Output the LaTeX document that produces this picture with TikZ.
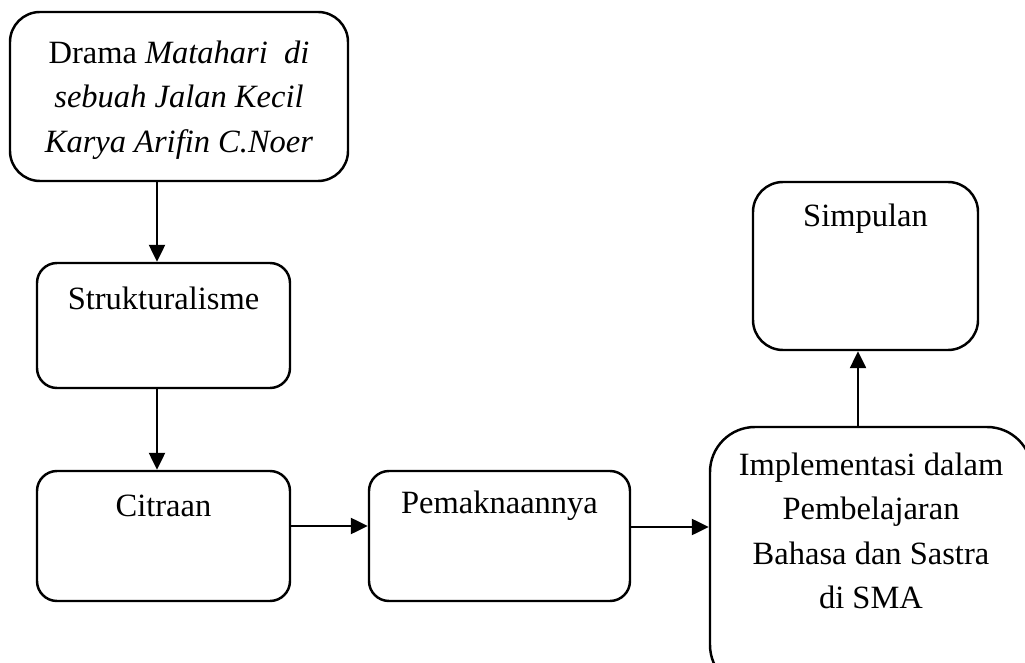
\documentclass[tikz,border=0pt]{standalone}
\usepackage{fontspec}
\setmainfont{Liberation Serif}
\usetikzlibrary{arrows.meta}
\begin{document}
\begin{tikzpicture}[line cap=round,line join=round,
    box/.style={draw,line width=1.4pt,inner sep=0pt},
    txt/.style={font=\fontsize{18.5}{25.3}\selectfont,align=center,inner sep=0pt},
    arr/.style={line width=1.4pt,-{Triangle[length=0.34cm,width=0.32cm]}}]
  \useasboundingbox (0,0) rectangle (20.5,-13.26);
  \node[box,rounded corners=0.6cm,minimum width=6.76cm,minimum height=3.38cm] (drama) at (3.58,-1.93) {};
  \node[box,rounded corners=0.4cm,minimum width=5.06cm,minimum height=2.5cm] (struk) at (3.27,-6.51) {};
  \node[box,rounded corners=0.4cm,minimum width=5.06cm,minimum height=2.6cm] (citra) at (3.27,-10.72) {};
  \node[box,rounded corners=0.4cm,minimum width=5.22cm,minimum height=2.6cm] (makna) at (9.99,-10.72) {};
  \node[box,rounded corners=0.9cm,minimum width=6.44cm,minimum height=5.26cm] (impl) at (17.42,-11.17) {};
  \node[box,rounded corners=0.6cm,minimum width=4.5cm,minimum height=3.36cm] (simpul) at (17.31,-5.32) {};
  \node[txt] (dramat) at ([yshift=-0.07cm]drama.center) {Drama \textit{Matahari\ \ di}\\\textit{sebuah Jalan Kecil}\\\textit{Karya Arifin C.Noer}};
  \node[txt] (strukt) at ([yshift=-0.74cm]struk.north) {Strukturalisme};
  \node[txt] (citrat) at ([yshift=-0.72cm]citra.north) {Citraan};
  \node[txt] (maknat) at ([yshift=-0.72cm]makna.north) {Pemaknaannya};
  \node[txt] (implt) at ([yshift=-2.1cm]impl.north) {Implementasi dalam\\Pembelajaran\\Bahasa dan Sastra\\di SMA};
  \node[txt] (simpult) at ([yshift=-0.76cm]simpul.north) {Simpulan};
  \draw[arr] ([xshift=-0.13cm]struk.north |- drama.south) -- ([xshift=-0.13cm]struk.north);
  \draw[arr] ([xshift=-0.13cm]struk.south) -- ([xshift=-0.13cm]citra.north);
  \draw[arr] ([yshift=0.2cm]citra.east) -- ([yshift=0.2cm]makna.west);
  \draw[arr] ([yshift=0.18cm]makna.east) -- ([yshift=0.18cm]makna.east -| impl.west);
  \draw[arr] ([xshift=-0.26cm]impl.north) -- ([xshift=-0.26cm]impl.north |- simpul.south);
\end{tikzpicture}
\end{document}
